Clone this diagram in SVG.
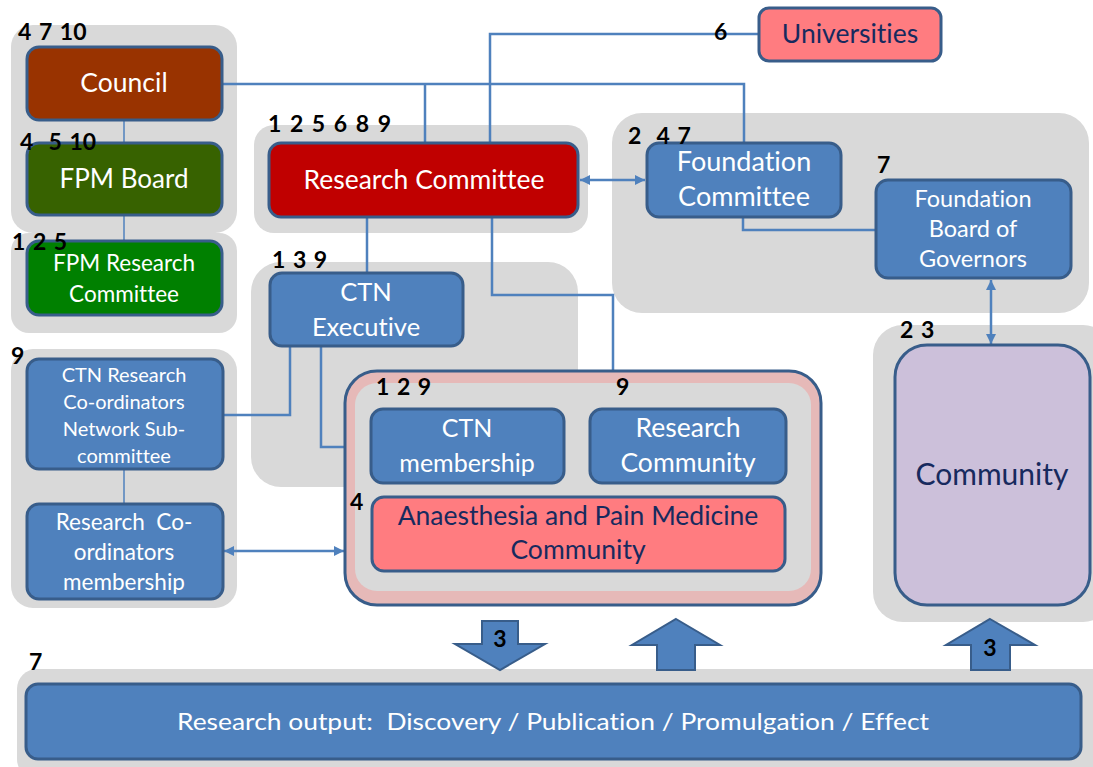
<svg xmlns="http://www.w3.org/2000/svg" width="1093" height="767" viewBox="0 0 1093 767">
<defs>
<style>
text{font-variant-ligatures:none}
.bg{fill:#d9d9d9}
.box{stroke:#385d8a;stroke-width:3}
.blue{fill:#4f81bd}
.wt{font-family:Lato,"Liberation Sans",sans-serif;fill:#ffffff;text-anchor:middle}
.nv{font-family:Lato,"Liberation Sans",sans-serif;fill:#172a5e;text-anchor:middle}
.lbl{font-family:Lato,"Liberation Sans",sans-serif;font-weight:bold;fill:#000000;font-size:23px;word-spacing:2px}
.con{fill:none;stroke:#4f81bd;stroke-width:2.5}
.thin{fill:none;stroke:#4f81bd;stroke-width:1.5}
.blk{fill:#4f81bd;stroke:#385d8a;stroke-width:2}
</style>
<marker id="ah" viewBox="0 0 10 10" refX="10" refY="5" markerWidth="10" markerHeight="10" markerUnits="userSpaceOnUse" orient="auto-start-reverse">
<path d="M0,0 L10,5 L0,10 Z" fill="#4f81bd"/>
</marker>
</defs>

<g id="backgrounds">
<rect class="bg" x="11" y="25" width="226" height="208" rx="22"/>
<rect class="bg" x="11" y="233" width="226" height="100" rx="18"/>
<rect class="bg" x="254" y="125" width="334" height="108" rx="20"/>
<rect class="bg" x="612" y="113" width="477" height="200" rx="30"/>
<rect class="bg" x="251" y="262" width="327" height="225" rx="30"/>
<rect class="bg" x="11" y="349" width="226" height="259" rx="22"/>
<rect class="bg" x="873" y="325" width="240" height="297" rx="30"/>
<rect class="bg" x="17" y="669" width="1096" height="110" rx="20"/>
</g>

<g id="connectors">
<path class="thin" d="M124,120 V143"/>
<path class="thin" d="M124,215 V241"/>
<path class="thin" d="M124,469 V504"/>
<path class="con" d="M222,84 H744 V143"/>
<path class="con" d="M425,84 V143"/>
<path class="con" d="M759,34 H490 V143"/>
<path class="con" d="M367,217 V273"/>
<path class="con" d="M492,217 V295 H613 V371"/>
<path class="con" d="M290,346 V415 H223"/>
<path class="con" d="M321,346 V447 H347"/>
<path class="con" d="M743,217 V230 H876"/>
<path class="con" d="M580,180 H645" marker-start="url(#ah)" marker-end="url(#ah)"/>
<path class="con" d="M991,280 V344" marker-start="url(#ah)" marker-end="url(#ah)"/>
<path class="con" d="M224,551 H344" marker-start="url(#ah)" marker-end="url(#ah)"/>
</g>

<g id="council">
<rect class="box" x="27" y="47" width="195" height="73" rx="12" fill="#993300"/>
<text class="wt" x="124" y="92" font-size="26.5">Council</text>
<text class="lbl" x="18" y="40">4 7 10</text>
</g>

<g id="fpm-board">
<rect class="box" x="27" y="143" width="195" height="72" rx="12" fill="#376200"/>
<text class="wt" x="124" y="188" font-size="26">FPM Board</text>
<text class="lbl" x="20" y="150" xml:space="preserve">4  5 10</text>
</g>

<g id="fpm-research-committee">
<rect class="box" x="27" y="241" width="195" height="74" rx="12" fill="#008000"/>
<text class="wt" x="124" y="271" font-size="22.5">FPM Research</text>
<text class="wt" x="124" y="302" font-size="22.5">Committee</text>
<text class="lbl" x="12" y="250">1 2 5</text>
</g>

<g id="research-committee">
<rect class="box" x="269" y="143" width="309" height="74" rx="12" fill="#c00000"/>
<text class="wt" x="424" y="189" font-size="26.5">Research Committee</text>
<text class="lbl" x="268" y="132" style="word-spacing:3px">1 2 5 6 8 9</text>
</g>

<g id="universities">
<rect class="box" x="759" y="8" width="182" height="53" rx="10" fill="#ff7c80"/>
<text class="nv" x="850" y="43" font-size="26.5">Universities</text>
<text class="lbl" x="714" y="40">6</text>
</g>

<g id="foundation-committee">
<rect class="box blue" x="647" y="143" width="194" height="74" rx="12"/>
<text class="wt" x="744" y="171" font-size="27">Foundation</text>
<text class="wt" x="744" y="206" font-size="27">Committee</text>
<text class="lbl" x="628" y="144" xml:space="preserve">2  4 7</text>
</g>

<g id="foundation-board">
<rect class="box blue" x="876" y="180" width="195" height="98" rx="12"/>
<text class="wt" x="973" y="207" font-size="23.5">Foundation</text>
<text class="wt" x="973" y="237" font-size="23.5">Board of</text>
<text class="wt" x="973" y="267" font-size="23.5">Governors</text>
<text class="lbl" x="877" y="173">7</text>
</g>

<g id="ctn-executive">
<rect class="box blue" x="270" y="273" width="193" height="73" rx="12"/>
<text class="wt" x="366" y="301" font-size="25.5">CTN</text>
<text class="wt" x="366" y="336" font-size="25.5">Executive</text>
<text class="lbl" x="272" y="268">1 3 9</text>
</g>

<g id="ctn-subcommittee">
<rect class="box blue" x="27" y="359" width="196" height="110" rx="12"/>
<text class="wt" x="124" y="382" font-size="20">CTN Research</text>
<text class="wt" x="124" y="409" font-size="20">Co-ordinators</text>
<text class="wt" x="124" y="436" font-size="20">Network Sub-</text>
<text class="wt" x="124" y="463" font-size="20">committee</text>
<text class="lbl" x="11" y="364">9</text>
</g>

<g id="coordinators-membership">
<rect class="box blue" x="27" y="504" width="196" height="95" rx="12"/>
<text class="wt" x="124" y="530" font-size="22.5" xml:space="preserve">Research  Co-</text>
<text class="wt" x="124" y="560" font-size="22.5">ordinators</text>
<text class="wt" x="124" y="590" font-size="22.5">membership</text>
</g>

<g id="community-group">
<rect x="345" y="371" width="476" height="234" rx="32" fill="#e6b9b8" stroke="#385d8a" stroke-width="3"/>
<rect class="bg" x="355" y="383" width="456" height="208" rx="22"/>
<text class="lbl" x="376" y="395">1 2 9</text>
<text class="lbl" x="616" y="395">9</text>
<text class="lbl" x="350" y="510">4</text>
</g>

<g id="ctn-membership">
<rect class="box blue" x="371" y="409" width="193" height="74" rx="12"/>
<text class="wt" x="467" y="437" font-size="25">CTN</text>
<text class="wt" x="467" y="472" font-size="25">membership</text>
</g>

<g id="research-community">
<rect class="box blue" x="590" y="409" width="196" height="74" rx="12"/>
<text class="wt" x="688" y="437" font-size="26.5">Research</text>
<text class="wt" x="688" y="472" font-size="26.5">Community</text>
</g>

<g id="apm-community">
<rect class="box" x="372" y="497" width="413" height="74" rx="12" fill="#ff7c80"/>
<text class="nv" x="578" y="525" font-size="26.5">Anaesthesia and Pain Medicine</text>
<text class="nv" x="578" y="559" font-size="26.5">Community</text>
</g>

<g id="community">
<rect x="895" y="345" width="195" height="260" rx="32" fill="#ccc0da" stroke="#385d8a" stroke-width="3"/>
<text class="nv" x="992" y="485" font-size="30">Community</text>
<text class="lbl" x="900" y="338">2 3</text>
</g>

<g id="block-arrows">
<polygon class="blk" points="482,621 518,621 518,644 545,644 500,670 455,644 482,644"/>
<text class="lbl" x="500" y="647" text-anchor="middle" font-size="21">3</text>
<polygon class="blk" points="676,619 720,645 695,645 695,670 657,670 657,645 632,645"/>
<polygon class="blk" points="990,619 1035,645 1010,645 1010,670 971,670 971,645 946,645"/>
<text class="lbl" x="990" y="656" text-anchor="middle" font-size="21">3</text>
</g>

<g id="research-output">
<rect class="box blue" x="26" y="684" width="1055" height="75" rx="12"/>
<text class="wt" x="553" y="730" font-size="24" textLength="752" lengthAdjust="spacingAndGlyphs" xml:space="preserve">Research output:  Discovery / Publication / Promulgation / Effect</text>
<text class="lbl" x="29" y="670">7</text>
</g>
</svg>
